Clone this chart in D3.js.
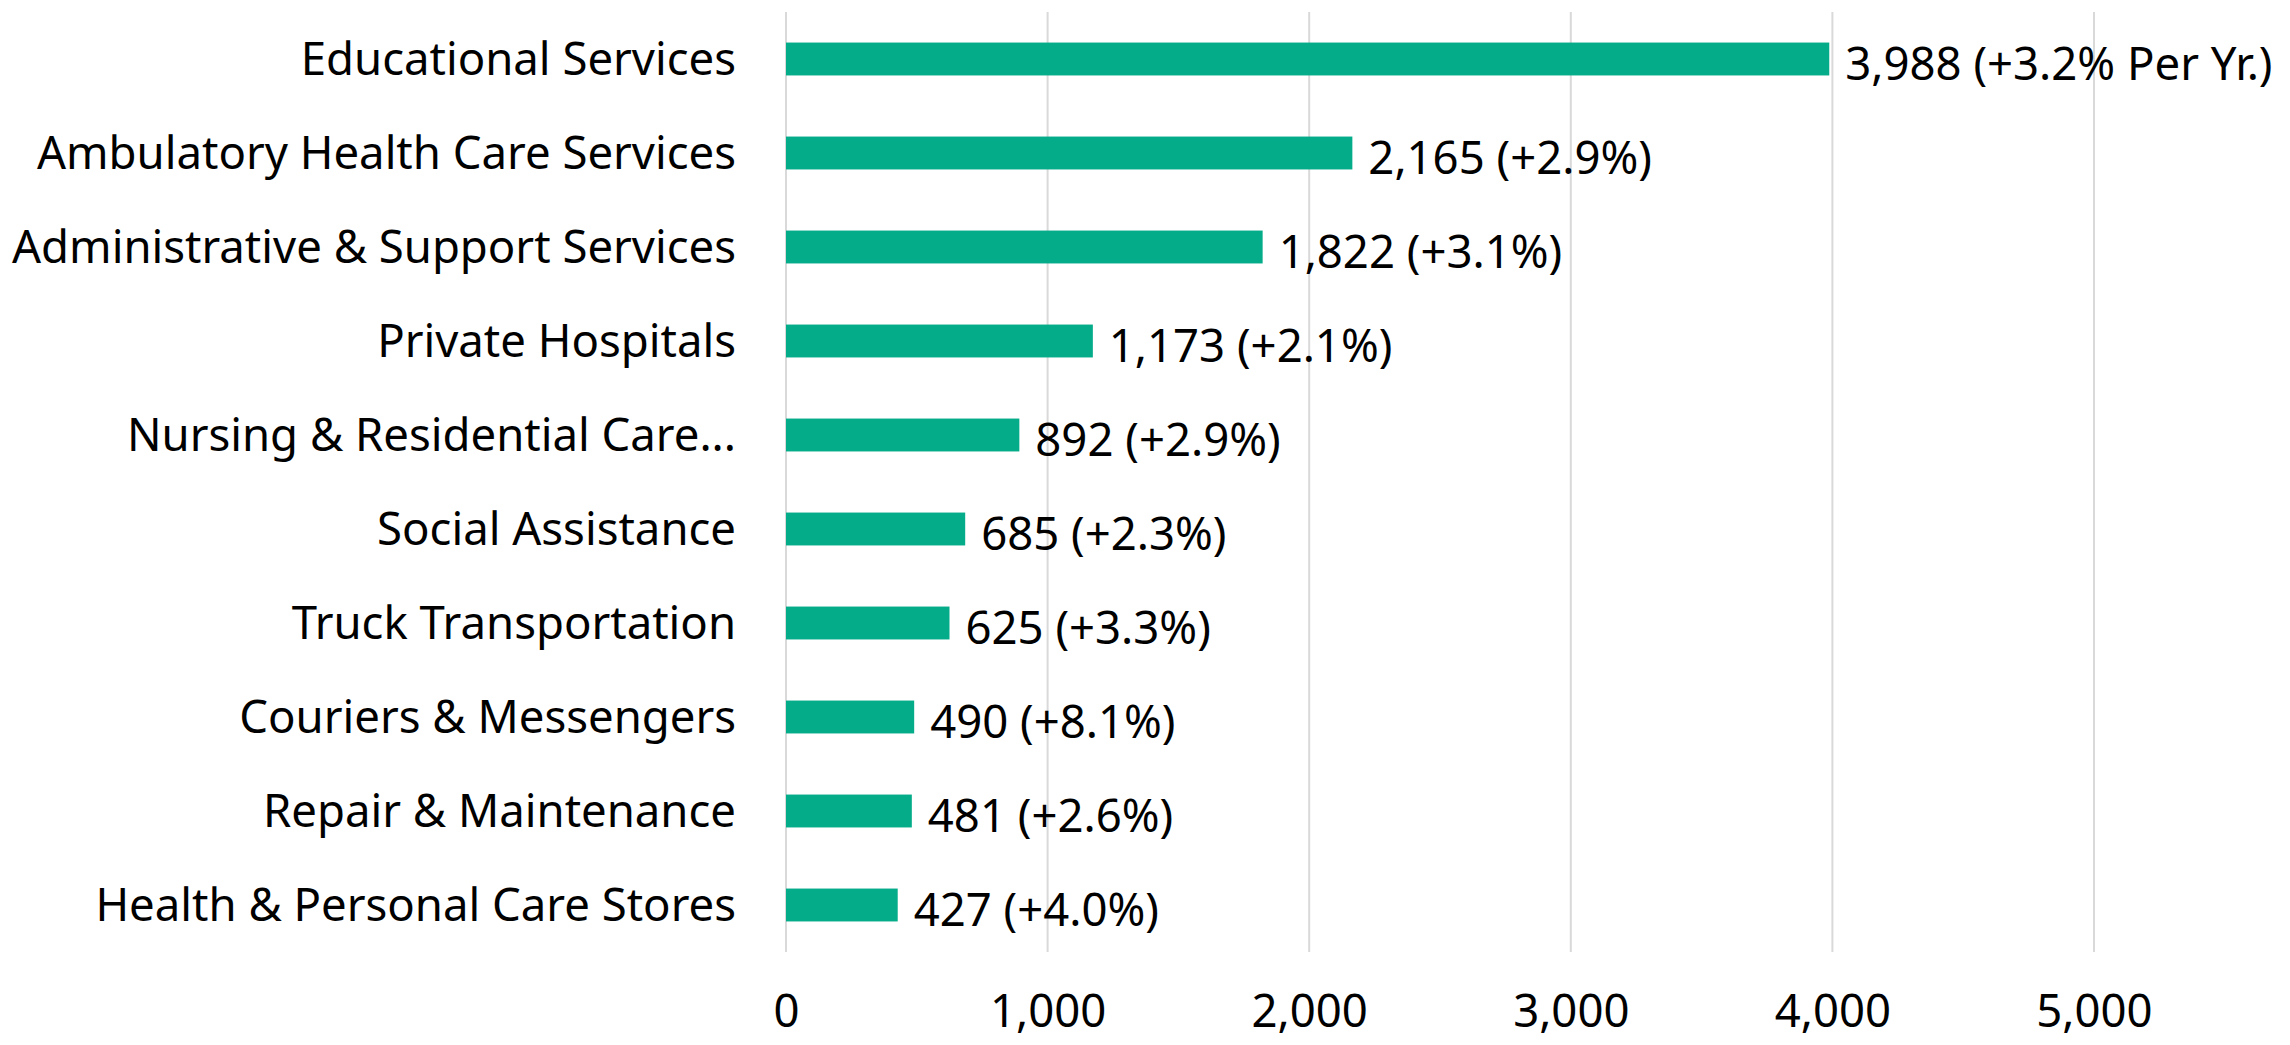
<!DOCTYPE html>
<html>
<head>
<meta charset="utf-8">
<script src="https://cdn.jsdelivr.net/npm/d3@7"></script>
<style>
  body { margin: 0; background: #fff; }
  text { font-family: "Noto Sans", "Open Sans", sans-serif; fill: #000; }
</style>
</head>
<body>
<script>
var width = 2290;
var height = 1045;

// data
var industries = ["Educational Services", "Ambulatory Health Care Services", "Administrative & Support Services",
    "Private Hospitals", "Nursing & Residential Care...", "Social Assistance", "Truck Transportation",
    "Couriers & Messengers", "Repair & Maintenance", "Health & Personal Care Stores"];
var jobs = [3988, 2165, 1822, 1173, 892, 685, 625, 490, 481, 427];
var growth = ["+3.2% Per Yr.", "+2.9%", "+3.1%", "+2.1%", "+2.9%", "+2.3%", "+3.3%", "+8.1%", "+2.6%", "+4.0%"];
var xTicks = [0, 1000, 2000, 3000, 4000, 5000];

var fontSize = 45.5;

var svg = d3.select("body")
    .append("svg")
    .attr("width", width)
    .attr("height", height);

var x = d3.scaleLinear()
    .domain([0, 5000])
    .range([786, 2094]);

var y = d3.scaleBand()
    .domain(industries)
    .range([12, 952])
    .paddingInner(0.65)
    .paddingOuter(0.325);

// gridlines
svg.append("g")
    .selectAll("line")
    .data(xTicks)
    .enter()
    .append("line")
    .attr("x1", function(d) { return x(d); })
    .attr("x2", function(d) { return x(d); })
    .attr("y1", 12)
    .attr("y2", 952)
    .attr("stroke", "#d9d9d9")
    .attr("stroke-width", 2);

// x axis labels
var xAxis = d3.axisBottom(x)
    .tickValues(xTicks)
    .tickSize(0)
    .tickPadding(0)
    .tickFormat(d3.format(","));

svg.append("g")
    .attr("transform", "translate(0,1000)")
    .call(xAxis)
    .call(function(g) { g.select(".domain").remove(); })
    .selectAll("text")
    .attr("font-size", fontSize)
    .attr("dy", "0.6em")
    .style("font-family", "'Noto Sans', sans-serif")
    .attr("fill", "#000");

// bars
svg.append("g")
    .selectAll("rect")
    .data(industries)
    .enter()
    .append("rect")
    .attr("x", x(0))
    .attr("y", function(d) { return y(d); })
    .attr("width", function(d, i) { return x(jobs[i]) - x(0); })
    .attr("height", y.bandwidth())
    .attr("fill", "#05ac8a");

// category labels
svg.append("g")
    .selectAll("text")
    .data(industries)
    .enter()
    .append("text")
    .attr("x", 736)
    .attr("y", function(d) { return y(d) + y.bandwidth() / 2; })
    .attr("dy", "0.35em")
    .attr("text-anchor", "end")
    .attr("font-size", fontSize)
    .text(function(d) { return d; });

// value labels
svg.append("g")
    .selectAll("text")
    .data(industries)
    .enter()
    .append("text")
    .attr("x", function(d, i) { return x(jobs[i]) + 16; })
    .attr("y", function(d) { return y(d) + y.bandwidth() / 2 + 5; })
    .attr("dy", "0.35em")
    .attr("font-size", fontSize)
    .text(function(d, i) { return d3.format(",")(jobs[i]) + " (" + growth[i] + ")"; });
</script>
</body>
</html>
